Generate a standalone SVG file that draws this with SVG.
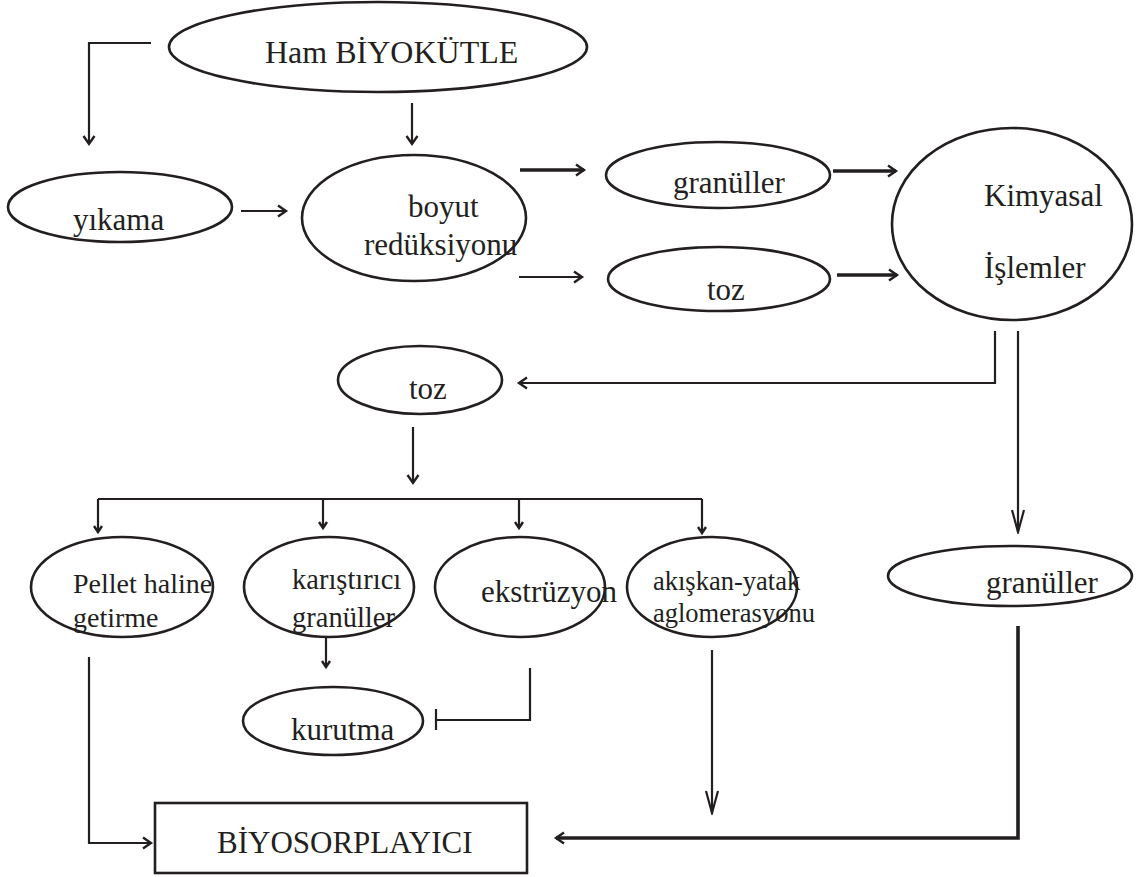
<svg xmlns="http://www.w3.org/2000/svg" width="1144" height="877" viewBox="0 0 1144 877">
<defs>
<style>
.n{fill:#fff;stroke:#231f20;stroke-width:2.6}
.t{font-family:"Liberation Serif","Times New Roman",serif;font-size:31px;fill:#231f20}
.c{fill:none;stroke:#231f20;stroke-width:2.2}
.k{fill:none;stroke:#231f20;stroke-width:3.6}
</style>
<marker id="a" markerUnits="userSpaceOnUse" markerWidth="14" markerHeight="14" viewBox="0 0 14 14" refX="11" refY="7" orient="auto">
<path d="M3,1.5 L11,7 L3,12.5" fill="none" stroke="#231f20" stroke-width="2.4"/>
</marker>
<marker id="s" markerUnits="userSpaceOnUse" markerWidth="12" markerHeight="12" viewBox="0 0 12 12" refX="9" refY="6" orient="auto">
<path d="M3,2 L9,6 L3,10" fill="none" stroke="#231f20" stroke-width="2.4"/>
</marker>
<marker id="l" markerUnits="userSpaceOnUse" markerWidth="26" markerHeight="16" viewBox="0 0 26 16" refX="24" refY="8" orient="auto">
<path d="M2,2 L24,8 L2,14" fill="none" stroke="#231f20" stroke-width="2.2"/>
</marker>
</defs>
<rect width="1144" height="877" fill="#fff"/>
<g id="connectors">
<path class="c" d="M151,43 H89 V144" marker-end="url(#a)"/>
<path class="c" d="M412,103 V144" marker-end="url(#a)"/>
<path class="c" d="M241,211 H286" marker-end="url(#a)"/>
<path class="k" d="M520,170 H584" marker-end="url(#a)"/>
<path class="c" d="M519,277 H582" marker-end="url(#a)"/>
<path class="k" d="M833,171 H896" marker-end="url(#a)"/>
<path class="k" d="M837,275 H897" marker-end="url(#a)"/>
<path class="c" d="M995,331 V383 H519" marker-end="url(#a)"/>
<path class="c" d="M1018,331 V532" marker-end="url(#l)"/>
<path class="c" d="M413,427 V483" marker-end="url(#a)"/>
<path class="c" d="M98,499 H702" stroke-width="2.6"/>
<path class="c" d="M98,499 V532" stroke-width="2.6" marker-end="url(#s)"/>
<path class="c" d="M323,499 V528" stroke-width="2.6" marker-end="url(#s)"/>
<path class="c" d="M519,499 V528" stroke-width="2.6" marker-end="url(#s)"/>
<path class="c" d="M702,499 V533" stroke-width="2.6" marker-end="url(#s)"/>
<path class="c" d="M326,638 V667" marker-end="url(#s)"/>
<path class="c" d="M530,668 V720 H436 M436,709 V730"/>
<path class="c" d="M89,657 V843 H151" marker-end="url(#a)"/>
<path class="c" d="M712,650 V813" marker-end="url(#l)"/>
<path class="k" d="M1018,626 V838 H556" stroke-width="3" marker-end="url(#a)"/>
</g>
<g id="ham"><ellipse class="n" cx="378" cy="47" rx="209" ry="45"/><text class="t" x="265" y="63" style="font-size:32px">Ham BİYOKÜTLE</text></g>
<g id="yikama"><ellipse class="n" cx="120" cy="207" rx="112" ry="35"/><text class="t" x="73" y="230">yıkama</text></g>
<g id="boyut"><ellipse class="n" cx="414" cy="218" rx="112" ry="63"/><text class="t" x="408" y="217">boyut</text><text class="t" x="364" y="255">redüksiyonu</text></g>
<g id="granuller1"><ellipse class="n" cx="718" cy="175" rx="112" ry="33"/><text class="t" x="673" y="193">granüller</text></g>
<g id="toz1"><ellipse class="n" cx="719" cy="279" rx="111" ry="32"/><text class="t" x="707" y="300">toz</text></g>
<g id="kimyasal"><ellipse class="n" cx="1012" cy="224" rx="120" ry="96"/><text class="t" x="984" y="206">Kimyasal</text><text class="t" x="984" y="278">İşlemler</text></g>
<g id="toz2"><ellipse class="n" cx="420" cy="380" rx="82" ry="34"/><text class="t" x="409" y="399">toz</text></g>
<g id="pellet"><ellipse class="n" cx="122" cy="587" rx="91" ry="50"/><text class="t" x="73" y="593" style="font-size:28px">Pellet haline</text><text class="t" x="73" y="627" style="font-size:28px">getirme</text></g>
<g id="karistirici"><ellipse class="n" cx="329" cy="587" rx="85" ry="50"/><text class="t" x="292" y="589" style="font-size:28.5px">karıştırıcı</text><text class="t" x="292" y="627" style="font-size:28.5px">granüller</text></g>
<g id="ekstruzyon"><ellipse class="n" cx="520" cy="587" rx="85" ry="50"/><text class="t" x="481" y="602">ekstrüzyon</text></g>
<g id="akiskan"><ellipse class="n" cx="712" cy="587" rx="85" ry="50"/><text class="t" x="653" y="590" style="font-size:26.5px">akışkan-yatak</text><text class="t" x="653" y="622" style="font-size:26.5px">aglomerasyonu</text></g>
<g id="granuller2"><ellipse class="n" cx="1010" cy="576" rx="122" ry="30"/><text class="t" x="986" y="593">granüller</text></g>
<g id="kurutma"><ellipse class="n" cx="333" cy="721" rx="90" ry="34"/><text class="t" x="291" y="740">kurutma</text></g>
<g id="biyosorplayici"><rect class="n" x="155" y="803" width="372" height="70"/><text class="t" x="217" y="853">BİYOSORPLAYICI</text></g>
</svg>
